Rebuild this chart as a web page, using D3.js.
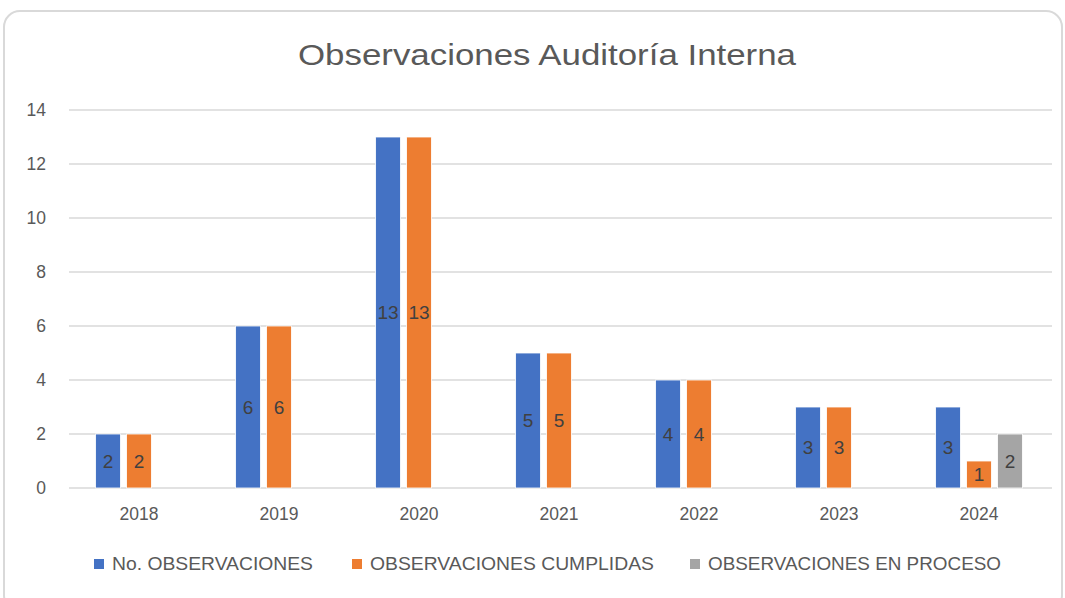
<!DOCTYPE html>
<html><head><meta charset="utf-8">
<script src="https://cdn.jsdelivr.net/npm/d3@7"></script>
<style>body{margin:0;background:#fff;}svg{display:block;}</style>
</head><body>
<svg id="chart" width="1065" height="598"></svg>
<script>
const title = "Observaciones Auditoría Interna";
const categories = ["2018","2019","2020","2021","2022","2023","2024"];
const seriesNames = ["No. OBSERVACIONES","OBSERVACIONES CUMPLIDAS","OBSERVACIONES EN PROCESO"];
const noObservaciones = [2,6,13,5,4,3,3];
const cumplidas = [2,6,13,5,4,3,1];
const enProceso = [null,null,null,null,null,null,2];
const yTicks = [0,2,4,6,8,10,12,14];
const colors = ["#4472C4","#ED7D31","#A5A5A5"];

const seriesValues = [noObservaciones, cumplidas, enProceso];
const svg = d3.select("#chart");
const font = "'Liberation Sans', Arial, sans-serif";

svg.append("rect").attr("x",4).attr("y",11).attr("width",1058).attr("height",600)
  .attr("rx",16).attr("fill","#fff").attr("stroke","#d9d9d9").attr("stroke-width",2);

svg.append("text").attr("x",547).attr("y",65).attr("text-anchor","middle")
  .attr("font-family",font).attr("font-size",29).attr("fill","#595959")
  .attr("textLength",498).attr("lengthAdjust","spacingAndGlyphs").text(title);

const pLeft = 69, pRight = 1049, pTop = 110, pBottom = 488;
const y = d3.scaleLinear().domain([0,14]).range([pBottom, pTop]);
const x0 = d3.scaleBand().domain(categories).range([pLeft,pRight]).paddingInner(0.336).paddingOuter(0.168);
const x1 = d3.scaleBand().domain(d3.range(3)).range([0,x0.bandwidth()]).paddingInner(0.2).paddingOuter(0.1);

// gridlines
svg.append("g").selectAll("line").data(yTicks).join("line")
  .attr("x1",pLeft).attr("x2",pRight+3).attr("y1",d=>y(d)).attr("y2",d=>y(d))
  .attr("stroke","#d9d9d9").attr("stroke-width",1.3);

// y axis
const yAxis = d3.axisLeft(y).tickValues(yTicks).tickSize(0).tickPadding(0);
const gy = svg.append("g").attr("transform",`translate(46,0)`).call(yAxis);
gy.select(".domain").remove();
gy.selectAll("text").attr("font-family",font).attr("font-size",17.5).attr("fill","#595959");

// x axis
const xAxis = d3.axisBottom(x0).tickSize(0).tickPadding(0);
const gx = svg.append("g").attr("transform",`translate(0,${pBottom+19})`).call(xAxis);
gx.select(".domain").remove();
gx.selectAll("text").attr("font-family",font).attr("font-size",17.5).attr("fill","#595959").attr("dy","0.72em");

// bars
const barData = [];
categories.forEach((c,i)=>{ seriesValues.forEach((s,j)=>{ if(s[i]!=null) barData.push({c, j, v:s[i]}); }); });
const g = svg.append("g");
g.selectAll("rect").data(barData).join("rect")
  .attr("x",d=>x0(d.c)+x1(d.j)).attr("y",d=>y(d.v))
  .attr("width",x1.bandwidth()).attr("height",d=>y(0)-y(d.v))
  .attr("fill",d=>colors[d.j]).attr("stroke","#fff").attr("stroke-width",0.8);
g.selectAll("text").data(barData).join("text")
  .attr("x",d=>x0(d.c)+x1(d.j)+x1.bandwidth()/2).attr("y",d=>(y(d.v)+y(0))/2)
  .attr("text-anchor","middle").attr("dy","0.36em")
  .attr("font-family",font).attr("font-size",19).attr("fill","#404040").text(d=>d.v);

// legend
const legendX = [94, 352, 690];
const legendW = [201, 284, 293];
const lg = svg.append("g").selectAll("g").data(seriesNames).join("g")
  .attr("transform",(d,i)=>`translate(${legendX[i]},564)`);
lg.append("rect").attr("x",0).attr("y",-5).attr("width",10).attr("height",10).attr("fill",(d,i)=>colors[i]);
lg.append("text").attr("x",18).attr("y",0).attr("dy","0.36em")
  .attr("font-family",font).attr("font-size",17.5).attr("fill","#595959")
  .attr("textLength",(d,i)=>legendW[i]).attr("lengthAdjust","spacingAndGlyphs").text(d=>d);
</script>
</body></html>
